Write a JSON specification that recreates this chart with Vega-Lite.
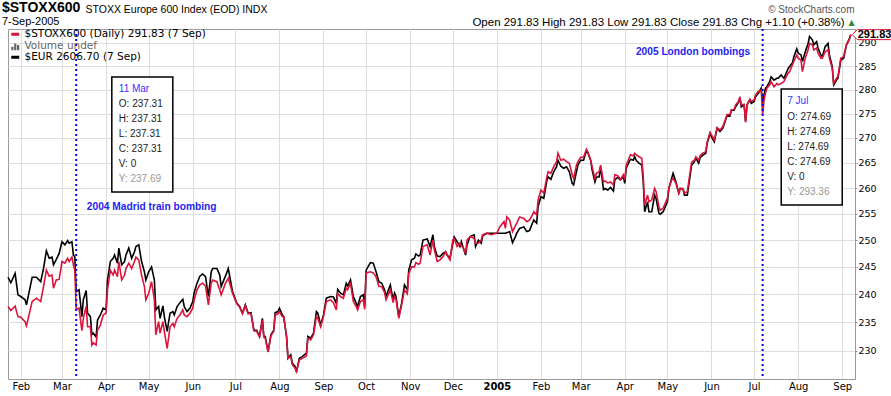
{
  "$schema": "https://vega.github.io/schema/vega-lite/v6.json",
  "width": 847,
  "height": 350,
  "autosize": {"type": "none"},
  "padding": {"left": 8, "top": 29, "right": 36, "bottom": 17},
  "background": "white",
  "config": {"view": {"stroke": "#9a9a9a"}, "font": "Liberation Sans"},
  "title": {
    "text": "$STOXX600",
    "subtitle": "7-Sep-2005",
    "anchor": "start",
    "frame": "group",
    "font": "Liberation Sans",
    "fontSize": 14,
    "fontWeight": "bold",
    "color": "#000",
    "subtitleFont": "Liberation Sans",
    "subtitleFontSize": 11,
    "subtitleColor": "#000",
    "subtitlePadding": 1,
    "offset": -23,
    "dx": -6
  },
  "datasets": {
    "prices": [
      {"date":"2004-01-23","stoxx":237.8,"eur":243.1},
      {"date":"2004-01-25","stoxx":237.1,"eur":242.1},
      {"date":"2004-01-28","stoxx":237.9,"eur":243.8},
      {"date":"2004-01-30","stoxx":236.0,"eur":239.9},
      {"date":"2004-02-01","stoxx":235.9,"eur":239.6},
      {"date":"2004-02-04","stoxx":235.1,"eur":239.0},
      {"date":"2004-02-05","stoxx":234.35,"eur":238.1},
      {"date":"2004-02-09","stoxx":238.7,"eur":243.1},
      {"date":"2004-02-12","stoxx":239.3,"eur":243.1},
      {"date":"2004-02-15","stoxx":238.7,"eur":242.3},
      {"date":"2004-02-17","stoxx":241.4,"eur":244.7},
      {"date":"2004-02-19","stoxx":244.4,"eur":248.0},
      {"date":"2004-02-21","stoxx":243.3,"eur":246.6},
      {"date":"2004-02-23","stoxx":243.5,"eur":246.8},
      {"date":"2004-02-24","stoxx":241.1,"eur":245.4},
      {"date":"2004-02-26","stoxx":242.6,"eur":246.4},
      {"date":"2004-02-28","stoxx":242.7,"eur":247.5},
      {"date":"2004-03-01","stoxx":246.0,"eur":249.7},
      {"date":"2004-03-03","stoxx":245.7,"eur":249.1},
      {"date":"2004-03-05","stoxx":246.6,"eur":249.9},
      {"date":"2004-03-06","stoxx":246.0,"eur":249.4},
      {"date":"2004-03-08","stoxx":246.8,"eur":249.7},
      {"date":"2004-03-09","stoxx":245.4,"eur":247.2},
      {"date":"2004-03-10","stoxx":244.4,"eur":246.9},
      {"date":"2004-03-11","stoxx":237.31,"eur":240.5},
      {"date":"2004-03-13","stoxx":237.5,"eur":240.8},
      {"date":"2004-03-15","stoxx":233.5,"eur":236.0},
      {"date":"2004-03-16","stoxx":235.7,"eur":239.0},
      {"date":"2004-03-18","stoxx":237.8,"eur":240.7},
      {"date":"2004-03-19","stoxx":234.2,"eur":236.6},
      {"date":"2004-03-21","stoxx":234.2,"eur":236.0},
      {"date":"2004-03-22","stoxx":231.0,"eur":232.8},
      {"date":"2004-03-23","stoxx":231.4,"eur":233.1},
      {"date":"2004-03-25","stoxx":231.0,"eur":232.4},
      {"date":"2004-03-26","stoxx":233.6,"eur":235.4},
      {"date":"2004-03-28","stoxx":234.5,"eur":236.3},
      {"date":"2004-03-30","stoxx":236.3,"eur":237.5},
      {"date":"2004-04-01","stoxx":236.6,"eur":237.2},
      {"date":"2004-04-02","stoxx":240.8,"eur":242.6},
      {"date":"2004-04-04","stoxx":244.4,"eur":246.0},
      {"date":"2004-04-06","stoxx":243.5,"eur":246.6},
      {"date":"2004-04-07","stoxx":244.4,"eur":247.2},
      {"date":"2004-04-09","stoxx":243.2,"eur":245.7},
      {"date":"2004-04-10","stoxx":246.0,"eur":248.5},
      {"date":"2004-04-12","stoxx":242.6,"eur":245.4},
      {"date":"2004-04-14","stoxx":243.5,"eur":246.0},
      {"date":"2004-04-15","stoxx":244.7,"eur":247.2},
      {"date":"2004-04-17","stoxx":245.7,"eur":248.5},
      {"date":"2004-04-19","stoxx":244.7,"eur":246.6},
      {"date":"2004-04-21","stoxx":246.0,"eur":247.8},
      {"date":"2004-04-22","stoxx":246.8,"eur":248.8},
      {"date":"2004-04-24","stoxx":246.3,"eur":249.1},
      {"date":"2004-04-26","stoxx":243.5,"eur":246.0},
      {"date":"2004-04-28","stoxx":241.4,"eur":244.1},
      {"date":"2004-04-29","stoxx":239.0,"eur":242.6},
      {"date":"2004-05-01","stoxx":240.2,"eur":244.1},
      {"date":"2004-05-03","stoxx":242.3,"eur":245.0},
      {"date":"2004-05-05","stoxx":239.0,"eur":242.6},
      {"date":"2004-05-06","stoxx":232.8,"eur":237.2},
      {"date":"2004-05-08","stoxx":235.1,"eur":237.8},
      {"date":"2004-05-09","stoxx":233.1,"eur":235.7},
      {"date":"2004-05-11","stoxx":235.1,"eur":237.9},
      {"date":"2004-05-12","stoxx":233.4,"eur":236.0},
      {"date":"2004-05-14","stoxx":230.4,"eur":233.4},
      {"date":"2004-05-16","stoxx":234.2,"eur":236.6},
      {"date":"2004-05-18","stoxx":234.8,"eur":236.9},
      {"date":"2004-05-19","stoxx":234.2,"eur":236.3},
      {"date":"2004-05-21","stoxx":235.7,"eur":237.8},
      {"date":"2004-05-23","stoxx":236.3,"eur":238.5},
      {"date":"2004-05-25","stoxx":237.2,"eur":239.1},
      {"date":"2004-05-26","stoxx":236.3,"eur":237.8},
      {"date":"2004-05-28","stoxx":236.0,"eur":236.9},
      {"date":"2004-05-30","stoxx":236.6,"eur":237.5},
      {"date":"2004-06-01","stoxx":237.5,"eur":238.7},
      {"date":"2004-06-02","stoxx":239.0,"eur":240.3},
      {"date":"2004-06-04","stoxx":240.8,"eur":242.0},
      {"date":"2004-06-06","stoxx":241.7,"eur":243.3},
      {"date":"2004-06-08","stoxx":242.0,"eur":243.7},
      {"date":"2004-06-10","stoxx":241.5,"eur":243.2},
      {"date":"2004-06-12","stoxx":238.1,"eur":239.6},
      {"date":"2004-06-14","stoxx":242.0,"eur":244.1},
      {"date":"2004-06-15","stoxx":242.6,"eur":244.7},
      {"date":"2004-06-18","stoxx":242.3,"eur":244.7},
      {"date":"2004-06-20","stoxx":240.8,"eur":243.5},
      {"date":"2004-06-21","stoxx":239.9,"eur":241.4},
      {"date":"2004-06-24","stoxx":242.0,"eur":243.3},
      {"date":"2004-06-26","stoxx":242.9,"eur":244.7},
      {"date":"2004-06-29","stoxx":240.2,"eur":240.5},
      {"date":"2004-07-02","stoxx":238.3,"eur":238.4},
      {"date":"2004-07-04","stoxx":237.7,"eur":237.8},
      {"date":"2004-07-06","stoxx":236.5,"eur":236.6},
      {"date":"2004-07-08","stoxx":237.9,"eur":238.1},
      {"date":"2004-07-10","stoxx":236.5,"eur":236.6},
      {"date":"2004-07-12","stoxx":236.5,"eur":236.7},
      {"date":"2004-07-14","stoxx":233.5,"eur":233.6},
      {"date":"2004-07-16","stoxx":233.4,"eur":233.6},
      {"date":"2004-07-18","stoxx":232.4,"eur":232.5},
      {"date":"2004-07-20","stoxx":235.4,"eur":235.7},
      {"date":"2004-07-21","stoxx":232.4,"eur":232.5},
      {"date":"2004-07-22","stoxx":232.2,"eur":232.5},
      {"date":"2004-07-24","stoxx":229.8,"eur":229.8},
      {"date":"2004-07-26","stoxx":232.6,"eur":232.8},
      {"date":"2004-07-28","stoxx":233.4,"eur":233.6},
      {"date":"2004-07-29","stoxx":236.3,"eur":236.7},
      {"date":"2004-07-31","stoxx":236.5,"eur":236.9},
      {"date":"2004-08-01","stoxx":236.9,"eur":237.5},
      {"date":"2004-08-03","stoxx":236.0,"eur":236.3},
      {"date":"2004-08-04","stoxx":236.0,"eur":236.0},
      {"date":"2004-08-06","stoxx":232.5,"eur":232.5},
      {"date":"2004-08-07","stoxx":228.7,"eur":228.7},
      {"date":"2004-08-09","stoxx":229.0,"eur":229.3},
      {"date":"2004-08-10","stoxx":227.6,"eur":227.9},
      {"date":"2004-08-12","stoxx":227.0,"eur":227.3},
      {"date":"2004-08-13","stoxx":226.4,"eur":226.4},
      {"date":"2004-08-15","stoxx":228.4,"eur":228.7},
      {"date":"2004-08-17","stoxx":228.7,"eur":229.0},
      {"date":"2004-08-20","stoxx":229.1,"eur":229.6},
      {"date":"2004-08-21","stoxx":232.2,"eur":232.5},
      {"date":"2004-08-23","stoxx":231.9,"eur":232.2},
      {"date":"2004-08-25","stoxx":232.8,"eur":233.1},
      {"date":"2004-08-27","stoxx":236.0,"eur":236.9},
      {"date":"2004-08-28","stoxx":235.7,"eur":236.6},
      {"date":"2004-08-30","stoxx":234.2,"eur":234.5},
      {"date":"2004-09-01","stoxx":236.0,"eur":236.3},
      {"date":"2004-09-03","stoxx":238.7,"eur":239.3},
      {"date":"2004-09-06","stoxx":239.0,"eur":239.6},
      {"date":"2004-09-08","stoxx":238.5,"eur":239.5},
      {"date":"2004-09-10","stoxx":237.2,"eur":238.4},
      {"date":"2004-09-11","stoxx":240.2,"eur":240.9},
      {"date":"2004-09-13","stoxx":239.6,"eur":240.2},
      {"date":"2004-09-15","stoxx":239.3,"eur":239.9},
      {"date":"2004-09-17","stoxx":241.1,"eur":242.0},
      {"date":"2004-09-18","stoxx":240.8,"eur":241.5},
      {"date":"2004-09-20","stoxx":242.0,"eur":242.6},
      {"date":"2004-09-22","stoxx":238.7,"eur":239.6},
      {"date":"2004-09-24","stoxx":237.8,"eur":238.4},
      {"date":"2004-09-25","stoxx":237.2,"eur":237.8},
      {"date":"2004-09-27","stoxx":238.7,"eur":239.6},
      {"date":"2004-09-29","stoxx":239.0,"eur":239.9},
      {"date":"2004-09-30","stoxx":237.3,"eur":237.8},
      {"date":"2004-10-01","stoxx":243.9,"eur":244.4},
      {"date":"2004-10-04","stoxx":244.1,"eur":245.8},
      {"date":"2004-10-06","stoxx":243.9,"eur":245.7},
      {"date":"2004-10-08","stoxx":243.2,"eur":244.1},
      {"date":"2004-10-10","stoxx":241.4,"eur":242.3},
      {"date":"2004-10-12","stoxx":241.4,"eur":242.0},
      {"date":"2004-10-14","stoxx":240.3,"eur":240.8},
      {"date":"2004-10-15","stoxx":239.0,"eur":239.6},
      {"date":"2004-10-18","stoxx":240.8,"eur":241.7},
      {"date":"2004-10-20","stoxx":238.5,"eur":239.0},
      {"date":"2004-10-21","stoxx":239.6,"eur":240.2},
      {"date":"2004-10-22","stoxx":239.1,"eur":239.6},
      {"date":"2004-10-24","stoxx":235.7,"eur":236.0},
      {"date":"2004-10-26","stoxx":238.1,"eur":238.4},
      {"date":"2004-10-28","stoxx":240.8,"eur":241.7},
      {"date":"2004-10-30","stoxx":240.1,"eur":240.8},
      {"date":"2004-10-31","stoxx":243.8,"eur":244.4},
      {"date":"2004-11-02","stoxx":245.0,"eur":246.3},
      {"date":"2004-11-04","stoxx":245.0,"eur":246.6},
      {"date":"2004-11-05","stoxx":245.8,"eur":247.4},
      {"date":"2004-11-07","stoxx":245.5,"eur":247.0},
      {"date":"2004-11-08","stoxx":245.7,"eur":247.2},
      {"date":"2004-11-10","stoxx":248.8,"eur":250.0},
      {"date":"2004-11-13","stoxx":249.1,"eur":250.2},
      {"date":"2004-11-15","stoxx":247.2,"eur":248.8},
      {"date":"2004-11-17","stoxx":250.0,"eur":251.0},
      {"date":"2004-11-18","stoxx":248.2,"eur":248.8},
      {"date":"2004-11-20","stoxx":246.0,"eur":247.0},
      {"date":"2004-11-22","stoxx":246.3,"eur":246.9},
      {"date":"2004-11-24","stoxx":246.9,"eur":247.5},
      {"date":"2004-11-26","stoxx":247.8,"eur":247.8},
      {"date":"2004-11-27","stoxx":247.2,"eur":247.2},
      {"date":"2004-11-29","stoxx":246.3,"eur":246.6},
      {"date":"2004-12-01","stoxx":250.0,"eur":249.4},
      {"date":"2004-12-02","stoxx":250.3,"eur":250.6},
      {"date":"2004-12-04","stoxx":248.8,"eur":249.7},
      {"date":"2004-12-06","stoxx":249.4,"eur":248.8},
      {"date":"2004-12-07","stoxx":248.8,"eur":249.7},
      {"date":"2004-12-08","stoxx":248.8,"eur":248.8},
      {"date":"2004-12-10","stoxx":247.5,"eur":247.2},
      {"date":"2004-12-11","stoxx":250.0,"eur":249.1},
      {"date":"2004-12-13","stoxx":250.6,"eur":250.6},
      {"date":"2004-12-14","stoxx":250.6,"eur":250.8},
      {"date":"2004-12-16","stoxx":250.3,"eur":251.0},
      {"date":"2004-12-17","stoxx":249.4,"eur":248.8},
      {"date":"2004-12-19","stoxx":249.4,"eur":250.0},
      {"date":"2004-12-21","stoxx":250.0,"eur":249.4},
      {"date":"2004-12-22","stoxx":251.0,"eur":250.8},
      {"date":"2004-12-25","stoxx":251.3,"eur":251.3},
      {"date":"2004-12-28","stoxx":251.0,"eur":251.3},
      {"date":"2005-01-01","stoxx":251.3,"eur":251.3},
      {"date":"2005-01-03","stoxx":252.5,"eur":251.3},
      {"date":"2005-01-06","stoxx":253.5,"eur":251.3},
      {"date":"2005-01-07","stoxx":252.2,"eur":251.3},
      {"date":"2005-01-08","stoxx":254.4,"eur":251.4},
      {"date":"2005-01-10","stoxx":253.8,"eur":251.6},
      {"date":"2005-01-12","stoxx":251.6,"eur":249.5},
      {"date":"2005-01-14","stoxx":252.7,"eur":250.6},
      {"date":"2005-01-15","stoxx":253.2,"eur":251.3},
      {"date":"2005-01-17","stoxx":254.4,"eur":252.2},
      {"date":"2005-01-20","stoxx":254.1,"eur":252.5},
      {"date":"2005-01-22","stoxx":253.5,"eur":251.6},
      {"date":"2005-01-24","stoxx":253.8,"eur":251.8},
      {"date":"2005-01-26","stoxx":254.8,"eur":253.2},
      {"date":"2005-01-27","stoxx":255.4,"eur":253.8},
      {"date":"2005-01-29","stoxx":254.8,"eur":253.2},
      {"date":"2005-01-30","stoxx":257.7,"eur":256.4},
      {"date":"2005-02-01","stoxx":259.6,"eur":258.3},
      {"date":"2005-02-03","stoxx":259.0,"eur":258.0},
      {"date":"2005-02-05","stoxx":261.9,"eur":261.2},
      {"date":"2005-02-06","stoxx":263.2,"eur":262.2},
      {"date":"2005-02-08","stoxx":262.9,"eur":261.7},
      {"date":"2005-02-10","stoxx":264.2,"eur":263.2},
      {"date":"2005-02-12","stoxx":265.2,"eur":264.2},
      {"date":"2005-02-13","stoxx":266.9,"eur":265.5},
      {"date":"2005-02-15","stoxx":265.5,"eur":264.3},
      {"date":"2005-02-17","stoxx":265.7,"eur":263.9},
      {"date":"2005-02-19","stoxx":265.2,"eur":264.2},
      {"date":"2005-02-21","stoxx":264.9,"eur":263.2},
      {"date":"2005-02-23","stoxx":262.6,"eur":260.9},
      {"date":"2005-02-24","stoxx":261.9,"eur":260.6},
      {"date":"2005-02-26","stoxx":264.5,"eur":263.2},
      {"date":"2005-02-27","stoxx":265.2,"eur":264.5},
      {"date":"2005-03-01","stoxx":266.1,"eur":265.5},
      {"date":"2005-03-03","stoxx":266.1,"eur":265.5},
      {"date":"2005-03-05","stoxx":267.7,"eur":267.4},
      {"date":"2005-03-06","stoxx":267.2,"eur":267.0},
      {"date":"2005-03-08","stoxx":265.5,"eur":265.5},
      {"date":"2005-03-09","stoxx":264.2,"eur":263.6},
      {"date":"2005-03-11","stoxx":261.9,"eur":261.2},
      {"date":"2005-03-12","stoxx":262.9,"eur":262.1},
      {"date":"2005-03-14","stoxx":263.2,"eur":262.2},
      {"date":"2005-03-15","stoxx":264.5,"eur":264.2},
      {"date":"2005-03-17","stoxx":261.2,"eur":259.7},
      {"date":"2005-03-18","stoxx":261.4,"eur":259.9},
      {"date":"2005-03-20","stoxx":261.0,"eur":259.6},
      {"date":"2005-03-22","stoxx":261.2,"eur":260.1},
      {"date":"2005-03-24","stoxx":260.6,"eur":259.4},
      {"date":"2005-03-25","stoxx":262.6,"eur":261.6},
      {"date":"2005-03-27","stoxx":262.4,"eur":262.1},
      {"date":"2005-03-29","stoxx":261.7,"eur":261.6},
      {"date":"2005-03-31","stoxx":262.6,"eur":262.2},
      {"date":"2005-04-01","stoxx":261.6,"eur":260.9},
      {"date":"2005-04-02","stoxx":264.5,"eur":263.9},
      {"date":"2005-04-05","stoxx":266.6,"eur":265.7},
      {"date":"2005-04-07","stoxx":266.4,"eur":265.5},
      {"date":"2005-04-08","stoxx":266.9,"eur":266.2},
      {"date":"2005-04-09","stoxx":266.6,"eur":265.5},
      {"date":"2005-04-11","stoxx":266.2,"eur":264.9},
      {"date":"2005-04-13","stoxx":265.9,"eur":264.5},
      {"date":"2005-04-14","stoxx":262.2,"eur":261.2},
      {"date":"2005-04-15","stoxx":256.7,"eur":255.4},
      {"date":"2005-04-17","stoxx":258.6,"eur":257.3},
      {"date":"2005-04-18","stoxx":257.3,"eur":255.4},
      {"date":"2005-04-20","stoxx":257.7,"eur":255.4},
      {"date":"2005-04-22","stoxx":259.9,"eur":258.6},
      {"date":"2005-04-23","stoxx":259.3,"eur":258.0},
      {"date":"2005-04-25","stoxx":256.4,"eur":255.1},
      {"date":"2005-04-26","stoxx":255.7,"eur":254.9},
      {"date":"2005-04-28","stoxx":256.1,"eur":255.4},
      {"date":"2005-05-01","stoxx":258.0,"eur":257.3},
      {"date":"2005-05-02","stoxx":259.9,"eur":259.9},
      {"date":"2005-05-04","stoxx":261.6,"eur":261.9},
      {"date":"2005-05-05","stoxx":261.9,"eur":262.9},
      {"date":"2005-05-07","stoxx":260.9,"eur":261.2},
      {"date":"2005-05-09","stoxx":259.0,"eur":259.0},
      {"date":"2005-05-10","stoxx":259.9,"eur":259.9},
      {"date":"2005-05-12","stoxx":259.9,"eur":259.8},
      {"date":"2005-05-13","stoxx":259.0,"eur":258.6},
      {"date":"2005-05-15","stoxx":259.3,"eur":258.6},
      {"date":"2005-05-17","stoxx":263.2,"eur":262.5},
      {"date":"2005-05-18","stoxx":265.1,"eur":264.5},
      {"date":"2005-05-20","stoxx":265.5,"eur":265.2},
      {"date":"2005-05-21","stoxx":266.2,"eur":265.9},
      {"date":"2005-05-23","stoxx":265.5,"eur":264.9},
      {"date":"2005-05-24","stoxx":266.4,"eur":266.0},
      {"date":"2005-05-26","stoxx":266.9,"eur":266.5},
      {"date":"2005-05-28","stoxx":267.2,"eur":266.9},
      {"date":"2005-05-29","stoxx":269.2,"eur":268.9},
      {"date":"2005-05-31","stoxx":271.1,"eur":270.9},
      {"date":"2005-06-01","stoxx":270.6,"eur":270.2},
      {"date":"2005-06-03","stoxx":269.6,"eur":269.2},
      {"date":"2005-06-04","stoxx":270.9,"eur":270.6},
      {"date":"2005-06-05","stoxx":272.1,"eur":272.0},
      {"date":"2005-06-07","stoxx":271.6,"eur":271.3},
      {"date":"2005-06-09","stoxx":272.3,"eur":272.0},
      {"date":"2005-06-11","stoxx":273.9,"eur":273.7},
      {"date":"2005-06-12","stoxx":274.8,"eur":274.7},
      {"date":"2005-06-14","stoxx":274.8,"eur":274.5},
      {"date":"2005-06-15","stoxx":275.7,"eur":275.7},
      {"date":"2005-06-17","stoxx":275.9,"eur":275.7},
      {"date":"2005-06-18","stoxx":276.8,"eur":276.4},
      {"date":"2005-06-20","stoxx":277.5,"eur":277.3},
      {"date":"2005-06-21","stoxx":278.5,"eur":278.2},
      {"date":"2005-06-22","stoxx":276.8,"eur":276.4},
      {"date":"2005-06-24","stoxx":276.9,"eur":276.8},
      {"date":"2005-06-25","stoxx":273.2,"eur":273.3},
      {"date":"2005-06-26","stoxx":276.8,"eur":276.8},
      {"date":"2005-06-28","stoxx":278.0,"eur":277.8},
      {"date":"2005-06-29","stoxx":277.5,"eur":277.1},
      {"date":"2005-07-01","stoxx":277.8,"eur":277.5},
      {"date":"2005-07-02","stoxx":278.9,"eur":278.5},
      {"date":"2005-07-04","stoxx":279.6,"eur":279.2},
      {"date":"2005-07-06","stoxx":279.9,"eur":280.3},
      {"date":"2005-07-07","stoxx":274.69,"eur":277.1},
      {"date":"2005-07-08","stoxx":277.8,"eur":278.9},
      {"date":"2005-07-09","stoxx":279.2,"eur":280.3},
      {"date":"2005-07-10","stoxx":280.3,"eur":280.6},
      {"date":"2005-07-12","stoxx":281.0,"eur":281.7},
      {"date":"2005-07-13","stoxx":281.7,"eur":282.7},
      {"date":"2005-07-15","stoxx":280.6,"eur":282.0},
      {"date":"2005-07-17","stoxx":281.3,"eur":282.4},
      {"date":"2005-07-18","stoxx":281.0,"eur":282.4},
      {"date":"2005-07-20","stoxx":281.3,"eur":283.1},
      {"date":"2005-07-22","stoxx":281.7,"eur":282.4},
      {"date":"2005-07-23","stoxx":282.3,"eur":283.1},
      {"date":"2005-07-25","stoxx":283.5,"eur":284.5},
      {"date":"2005-07-26","stoxx":283.8,"eur":284.9},
      {"date":"2005-07-28","stoxx":285.3,"eur":285.7},
      {"date":"2005-07-29","stoxx":286.0,"eur":287.0},
      {"date":"2005-07-31","stoxx":287.4,"eur":288.7},
      {"date":"2005-08-01","stoxx":286.7,"eur":287.8},
      {"date":"2005-08-03","stoxx":286.3,"eur":287.4},
      {"date":"2005-08-04","stoxx":283.8,"eur":286.0},
      {"date":"2005-08-06","stoxx":286.7,"eur":288.1},
      {"date":"2005-08-08","stoxx":288.5,"eur":289.9},
      {"date":"2005-08-09","stoxx":289.9,"eur":291.4},
      {"date":"2005-08-11","stoxx":289.6,"eur":290.7},
      {"date":"2005-08-12","stoxx":288.5,"eur":289.6},
      {"date":"2005-08-14","stoxx":288.9,"eur":290.3},
      {"date":"2005-08-15","stoxx":287.8,"eur":288.9},
      {"date":"2005-08-17","stoxx":286.7,"eur":287.4},
      {"date":"2005-08-18","stoxx":286.7,"eur":287.0},
      {"date":"2005-08-20","stoxx":288.1,"eur":289.2},
      {"date":"2005-08-22","stoxx":288.5,"eur":289.9},
      {"date":"2005-08-23","stoxx":286.7,"eur":287.4},
      {"date":"2005-08-25","stoxx":284.5,"eur":284.9},
      {"date":"2005-08-26","stoxx":281.3,"eur":281.0},
      {"date":"2005-08-28","stoxx":282.4,"eur":282.0},
      {"date":"2005-08-29","stoxx":282.8,"eur":282.4},
      {"date":"2005-08-31","stoxx":286.7,"eur":286.3},
      {"date":"2005-09-02","stoxx":287.0,"eur":286.7},
      {"date":"2005-09-04","stoxx":289.6,"eur":289.6},
      {"date":"2005-09-06","stoxx":290.73,"eur":290.9},
      {"date":"2005-09-07","stoxx":291.83,"eur":291.8}
    ],
    "events": [
      {"date":"2004-03-11","event":"2004 Madrid train bombing","label":"11 Mar","close":237.31,"details":["O: 237.31","H: 237.31","L: 237.31","C: 237.31","V: 0"],"ytext":"Y: 237.69"},
      {"date":"2005-07-07","event":"2005 London bombings","label":"7 Jul","close":274.69,"details":["O: 274.69","H: 274.69","L: 274.69","C: 274.69","V: 0"],"ytext":"Y: 293.36"}
    ]
  },
  "resolve": {"axis": {"x": "independent", "y": "independent"}},
  "layer": [
    {
      "data": {"name": "prices"},
      "transform": [{"fold": ["eur", "stoxx"], "as": ["series", "value"]}],
      "mark": {"type": "line", "strokeWidth": 1.6, "interpolate": "linear"},
      "encoding": {
        "x": {
          "field": "date", "type": "temporal",
          "scale": {"domain": [{"year": 2004, "month": 1, "date": 23}, {"year": 2005, "month": 9, "date": 10}], "nice": false},
          "axis": {
            "orient": "bottom",
            "values": [
              {"year":2004,"month":2,"date":1},{"year":2004,"month":3,"date":1},{"year":2004,"month":4,"date":1},
              {"year":2004,"month":5,"date":1},{"year":2004,"month":6,"date":1},{"year":2004,"month":7,"date":1},
              {"year":2004,"month":8,"date":1},{"year":2004,"month":9,"date":1},{"year":2004,"month":10,"date":1},
              {"year":2004,"month":11,"date":1},{"year":2004,"month":12,"date":1},{"year":2005,"month":1,"date":1},
              {"year":2005,"month":2,"date":1},{"year":2005,"month":3,"date":1},{"year":2005,"month":4,"date":1},
              {"year":2005,"month":5,"date":1},{"year":2005,"month":6,"date":1},{"year":2005,"month":7,"date":1},
              {"year":2005,"month":8,"date":1},{"year":2005,"month":9,"date":1}
            ],
            "labelExpr": "month(datum.value) === 0 ? timeFormat(datum.value, '%Y') : timeFormat(datum.value, '%b')",
            "labelFontWeight": {"condition": {"test": "month(datum.value) === 0", "value": "bold"}, "value": "normal"},
            "labelFont": "DejaVu Sans", "labelFontSize": 10, "labelColor": "#000",
            "labelPadding": 2, "labelFlush": false, "labelOverlap": false,
            "ticks": false, "grid": true, "gridColor": "#dddddd", "domainColor": "#9a9a9a",
            "title": "Open 291.83 High 291.83 Low 291.83 Close 291.83 Chg +1.10 (+0.38%)",
            "titleX": 836, "titleY": -354, "titleAlign": "right", "titleBaseline": "alphabetic",
            "titleFont": "Liberation Sans", "titleFontSize": 11.5, "titleFontWeight": "normal", "titleColor": "#000"
          }
        },
        "y": {
          "field": "value", "type": "quantitative",
          "scale": {"type": "log", "domain": [225.17, 293.07], "nice": false},
          "axis": {
            "orient": "right",
            "values": [230, 235, 240, 245, 250, 255, 260, 265, 270, 275, 280, 285, 290],
            "format": "d",
            "labelFont": "DejaVu Sans", "labelFontSize": 9.5, "labelColor": "#000",
            "tickSize": 2, "tickColor": "#9a9a9a", "labelPadding": 1,
            "grid": true, "gridColor": "#dddddd", "domainColor": "#9a9a9a",
            "title": "▲", "titleAngle": 0, "titleX": -4, "titleY": -7,
            "titleAlign": "center", "titleBaseline": "middle",
            "titleColor": "#2e8b2e", "titleFontSize": 8, "titleFont": "DejaVu Sans", "titleFontWeight": "normal"
          }
        },
        "color": {
          "field": "series", "type": "nominal",
          "scale": {"domain": ["stoxx", "volume", "eur"], "range": ["#dc143c", "#666666", "#000000"]},
          "legend": {
            "orient": "none", "legendX": 2, "legendY": 0, "title": null,
            "padding": 0, "rowPadding": -1, "offset": 0,
            "symbolType": "stroke", "symbolSize": 64, "symbolStrokeWidth": 3,
            "labelFont": "DejaVu Sans", "labelFontSize": 10.5, "labelOffset": 4, "labelLimit": 400,
            "labelExpr": "datum.value === 'stoxx' ? '$STOXX600 (Daily) 291.83 (7 Sep)' : datum.value === 'volume' ? 'Volume undef' : '$EUR 2606.70 (7 Sep)'",
            "encode": {
              "symbols": {"update": {
                "shape": {"signal": "datum.value === 'volume' ? 'M-1,1V0.1H-0.45V1ZM-0.28,1V-0.7H0.28V1ZM0.45,1V-0.3H1V1Z' : 'stroke'"},
                "fill": {"signal": "datum.value === 'volume' ? '#666666' : 'transparent'"},
                "strokeWidth": {"signal": "datum.value === 'volume' ? 0 : 3"}
              }},
              "labels": {"update": {"fill": {"signal": "datum.value === 'volume' ? '#666666' : '#000000'"}}}
            }
          }
        }
      }
    },
    {
      "data": {"name": "events"},
      "mark": {"type": "rule", "color": "#0000ff", "strokeWidth": 2, "strokeDash": [2, 3]},
      "encoding": {
        "x": {
          "field": "date", "type": "temporal",
          "axis": {
            "orient": "top", "labels": false, "ticks": false, "domain": false, "grid": false,
            "title": "STOXX Europe 600 Index (EOD) INDX",
            "titleX": 77, "titleY": -16.5, "titleAlign": "left", "titleBaseline": "alphabetic",
            "titleFont": "Liberation Sans", "titleFontSize": 10.5, "titleFontWeight": "normal", "titleColor": "#000"
          }
        }
      }
    },
    {
      "data": {"name": "events"},
      "transform": [{"filter": "datum.label === '11 Mar'"}],
      "mark": {"type": "text", "align": "left", "baseline": "middle", "dx": 10.6, "dy": -102, "font": "Liberation Sans", "fontSize": 10.2, "fontWeight": "bold", "color": "#2424f0"},
      "encoding": {
        "x": {"field": "date", "type": "temporal", "axis": null},
        "y": {
          "field": "close", "type": "quantitative",
          "axis": {
            "orient": "left", "labels": false, "ticks": false, "domain": false, "grid": false,
            "title": "© StockCharts.com", "titleAngle": 0, "titleX": 846, "titleY": -17,
            "titleAlign": "right", "titleBaseline": "alphabetic",
            "titleFont": "Liberation Sans", "titleFontSize": 10, "titleFontWeight": "normal", "titleColor": "#555555"
          }
        },
        "text": {"field": "event"}
      }
    },
    {
      "data": {"name": "events"},
      "transform": [{"filter": "datum.label === '7 Jul'"}],
      "mark": {"type": "text", "align": "right", "baseline": "middle", "dx": -12.4, "dy": -63, "font": "Liberation Sans", "fontSize": 10.2, "fontWeight": "bold", "color": "#2424f0"},
      "encoding": {
        "x": {"field": "date", "type": "temporal", "axis": null},
        "y": {"field": "close", "type": "quantitative", "axis": null},
        "text": {"field": "event"}
      }
    },
    {
      "data": {"name": "events"},
      "transform": [{"filter": "datum.label === '11 Mar'"}],
      "mark": {"type": "rect", "fill": "white", "stroke": "#000", "strokeWidth": 1.5, "xOffset": 35.6, "x2Offset": 96.6, "yOffset": -232.3, "y2Offset": -117.3},
      "encoding": {
        "x": {"field": "date", "type": "temporal", "axis": null},
        "x2": {"field": "date"},
        "y": {"field": "close", "type": "quantitative", "axis": null},
        "y2": {"field": "close"}
      }
    },
    {
      "data": {"name": "events"},
      "transform": [{"filter": "datum.label === '11 Mar'"}],
      "mark": {"type": "text", "align": "left", "baseline": "middle", "dx": 42.6, "dy": -220, "font": "Liberation Sans", "fontSize": 10, "color": "#3333ff"},
      "encoding": {
        "x": {"field": "date", "type": "temporal", "axis": null},
        "y": {"field": "close", "type": "quantitative", "axis": null},
        "text": {"field": "label"}
      }
    },
    {
      "data": {"name": "events"},
      "transform": [{"filter": "datum.label === '11 Mar'"}],
      "mark": {"type": "text", "align": "left", "baseline": "middle", "dx": 42.6, "dy": -205, "lineHeight": 15, "font": "Liberation Sans", "fontSize": 10, "color": "#222222"},
      "encoding": {
        "x": {"field": "date", "type": "temporal", "axis": null},
        "y": {"field": "close", "type": "quantitative", "axis": null},
        "text": {"field": "details"}
      }
    },
    {
      "data": {"name": "events"},
      "transform": [{"filter": "datum.label === '11 Mar'"}],
      "mark": {"type": "text", "align": "left", "baseline": "middle", "dx": 42.6, "dy": -130, "font": "Liberation Sans", "fontSize": 10, "color": "#999999"},
      "encoding": {
        "x": {"field": "date", "type": "temporal", "axis": null},
        "y": {"field": "close", "type": "quantitative", "axis": null},
        "text": {"field": "ytext"}
      }
    },
    {
      "data": {"name": "events"},
      "transform": [{"filter": "datum.label === '7 Jul'"}],
      "mark": {"type": "rect", "fill": "white", "stroke": "#000", "strokeWidth": 1.5, "xOffset": 18.6, "x2Offset": 79.6, "yOffset": -26, "y2Offset": 90},
      "encoding": {
        "x": {"field": "date", "type": "temporal", "axis": null},
        "x2": {"field": "date"},
        "y": {"field": "close", "type": "quantitative", "axis": null},
        "y2": {"field": "close"}
      }
    },
    {
      "data": {"name": "events"},
      "transform": [{"filter": "datum.label === '7 Jul'"}],
      "mark": {"type": "text", "align": "left", "baseline": "middle", "dx": 24.6, "dy": -14, "font": "Liberation Sans", "fontSize": 10, "color": "#3333ff"},
      "encoding": {
        "x": {"field": "date", "type": "temporal", "axis": null},
        "y": {"field": "close", "type": "quantitative", "axis": null},
        "text": {"field": "label"}
      }
    },
    {
      "data": {"name": "events"},
      "transform": [{"filter": "datum.label === '7 Jul'"}],
      "mark": {"type": "text", "align": "left", "baseline": "middle", "dx": 24.6, "dy": 1.7, "lineHeight": 15, "font": "Liberation Sans", "fontSize": 10, "color": "#222222"},
      "encoding": {
        "x": {"field": "date", "type": "temporal", "axis": null},
        "y": {"field": "close", "type": "quantitative", "axis": null},
        "text": {"field": "details"}
      }
    },
    {
      "data": {"name": "events"},
      "transform": [{"filter": "datum.label === '7 Jul'"}],
      "mark": {"type": "text", "align": "left", "baseline": "middle", "dx": 24.6, "dy": 76.7, "font": "Liberation Sans", "fontSize": 10, "color": "#999999"},
      "encoding": {
        "x": {"field": "date", "type": "temporal", "axis": null},
        "y": {"field": "close", "type": "quantitative", "axis": null},
        "text": {"field": "ytext"}
      }
    },
    {
      "data": {"name": "prices"},
      "transform": [{"filter": "time(datum.date) > utc(2005, 8, 6, 12)"}],
      "mark": {"type": "point", "shape": "M0.15,0L0.65,-0.5H4.5V0.5H0.65Z", "size": 400, "filled": true, "fill": "white", "stroke": "#dc143c", "strokeWidth": 1, "opacity": 1},
      "encoding": {
        "x": {"field": "date", "type": "temporal", "axis": null},
        "y": {"field": "stoxx", "type": "quantitative", "axis": null}
      }
    },
    {
      "data": {"name": "prices"},
      "transform": [{"filter": "time(datum.date) > utc(2005, 8, 6, 12)"}],
      "mark": {"type": "text", "align": "left", "baseline": "middle", "dx": 7, "font": "Liberation Sans", "fontSize": 11, "fontWeight": "bold", "color": "#000"},
      "encoding": {
        "x": {"field": "date", "type": "temporal", "axis": null},
        "y": {"field": "stoxx", "type": "quantitative", "axis": null},
        "text": {"field": "stoxx", "type": "quantitative", "format": ".2f"}
      }
    }
  ]
}
